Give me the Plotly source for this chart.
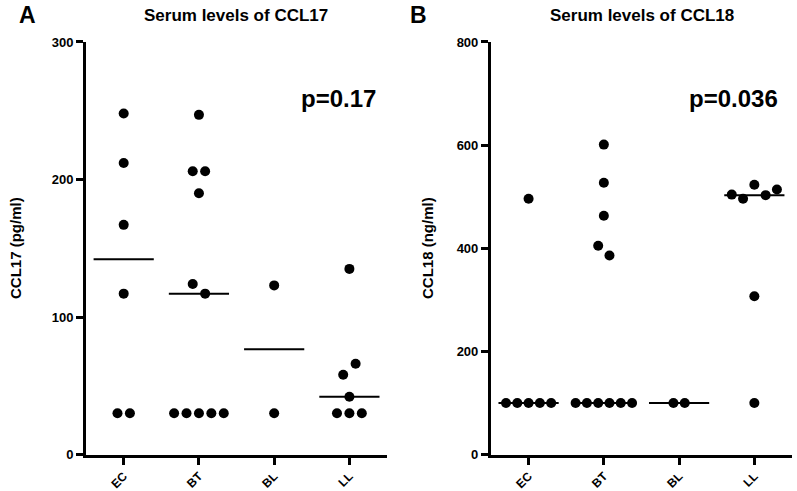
import numpy as np
import plotly.graph_objects as go

# ---------------- data ----------------
categories = ["EC", "BT", "BL", "LL"]

ccl17_EC = [248, 212, 167, 117, 30, 30]
ccl17_BT = [247, 206, 206, 190, 124, 117, 30, 30, 30, 30, 30]
ccl17_BL = [123, 30]
ccl17_LL = [135, 58, 66, 42, 30, 30, 30]

ccl18_EC = [496, 100, 100, 100, 100, 100]
ccl18_BT = [601, 527, 463, 405, 386, 100, 100, 100, 100, 100, 100]
ccl18_BL = [100, 100]
ccl18_LL = [504, 496, 523, 503, 514, 307, 100]

ccl17_ticks = [0, 100, 200, 300]
ccl18_ticks = [0, 200, 400, 600, 800]

titles = ["Serum levels of CCL17", "Serum levels of CCL18"]
ytitles = ["CCL17 (pg/ml)", "CCL18 (ng/ml)"]
pvalues = ["p=0.17", "p=0.036"]
letters = ["A", "B"]

# ---------------- layout constants ----------------
W, H = 797, 491
FONT = "Liberation Sans, Arial, Helvetica, sans-serif"
Y_DOM = [0.0743, 0.9145]
X_DOMS = [[0.108, 0.4856], [0.616, 0.9937]]
PLOT_H = (Y_DOM[1] - Y_DOM[0]) * H


def swarm_offsets(vals, ymax, spacing, thr_px=12.0):
    """Spread points that would overlap vertically into a symmetric row."""
    vals = np.asarray(vals, dtype=float)
    pxu = PLOT_H / ymax
    order = np.argsort(-vals, kind="stable")
    rows, cur = [], [order[0]]
    for a, b in zip(order[:-1], order[1:]):
        if abs(vals[a] - vals[b]) * pxu < thr_px:
            cur.append(b)
        else:
            rows.append(cur)
            cur = [b]
    rows.append(cur)
    off = np.zeros(len(vals))
    for r in rows:
        r = sorted(r)
        n = len(r)
        for k, idx in enumerate(r):
            off[idx] = (k - (n - 1) / 2) * spacing
    return off


panels = [
    dict(groups=[ccl17_EC, ccl17_BT, ccl17_BL, ccl17_LL], ymax=300, ticks=ccl17_ticks, sp=0.165),
    dict(groups=[ccl18_EC, ccl18_BT, ccl18_BL, ccl18_LL], ymax=800, ticks=ccl18_ticks, sp=0.15),
]

fig = go.Figure()

for p, panel in enumerate(panels):
    xa = "x" if p == 0 else "x2"
    ya = "y" if p == 0 else "y2"
    for i, vals in enumerate(panel["groups"]):
        off = swarm_offsets(vals, panel["ymax"], panel["sp"])
        fig.add_trace(go.Scatter(
            x=i + off, y=vals, mode="markers", xaxis=xa, yaxis=ya,
            marker=dict(color="black", size=10, line=dict(width=0)),
            showlegend=False, hoverinfo="y", cliponaxis=False))
        med = float(np.median(vals))
        fig.add_trace(go.Scatter(
            x=[i - 0.4, i + 0.4], y=[med, med], mode="lines", xaxis=xa, yaxis=ya,
            line=dict(color="black", width=2), showlegend=False, hoverinfo="skip"))

axis_common = dict(showline=True, linecolor="black", linewidth=3, ticks="outside",
                   tickcolor="black", tickwidth=3, ticklen=7, showgrid=False,
                   zeroline=False, fixedrange=True, automargin=False)

layout = dict(width=W, height=H, margin=dict(l=0, r=0, t=0, b=0),
              paper_bgcolor="white", plot_bgcolor="white",
              font=dict(family=FONT, color="black"))

for p, panel in enumerate(panels):
    sx = "" if p == 0 else "2"
    layout["xaxis" + sx] = dict(axis_common, domain=X_DOMS[p], range=[-0.5, 3.5],
                               tickvals=list(range(len(categories))), ticktext=categories,
                               tickangle=-45, anchor="y" + sx, ticklabelstandoff=0,
                               tickfont=dict(family=FONT, size=12, weight="bold", color="black"))
    layout["yaxis" + sx] = dict(axis_common, domain=Y_DOM, range=[0, panel["ymax"]],
                               tickvals=panel["ticks"], anchor="x" + sx, ticklabelstandoff=0,
                               tickfont=dict(family=FONT, size=13, weight="bold", color="black"))

fig.update_layout(**layout)

ann = []
title_x = [236.5 / W, 641.5 / W]
ytitle_x = [15 / W, 427 / W]
letter_x = [27 / W, 419 / W]
pval_x = [338 / W, 733 / W]
for p in range(2):
    ann.append(dict(text=titles[p], x=title_x[p], y=1 - 15 / H, xref="paper", yref="paper",
                    showarrow=False, xanchor="center", yanchor="middle",
                    font=dict(family=FONT, size=17, weight="bold", color="black")))
    ann.append(dict(text=ytitles[p], x=ytitle_x[p], y=1 - 248 / H, xref="paper", yref="paper",
                    showarrow=False, xanchor="center", yanchor="middle", textangle=-90,
                    font=dict(family=FONT, size=15, weight="bold", color="black")))
    ann.append(dict(text=letters[p], x=letter_x[p], y=1 - 15 / H, xref="paper", yref="paper",
                    showarrow=False, xanchor="center", yanchor="middle",
                    font=dict(family=FONT, size=23, weight="bold", color="black")))
    ann.append(dict(text=pvalues[p], x=pval_x[p], y=1 - 98 / H, xref="paper", yref="paper",
                    showarrow=False, xanchor="center", yanchor="middle",
                    font=dict(family=FONT, size=24, weight="bold", color="black")))
fig.update_layout(annotations=ann)

fig.write_html("out.html", config={"displayModeBar": False},
               post_script="document.body.style.margin='0';document.body.style.padding='0';")
